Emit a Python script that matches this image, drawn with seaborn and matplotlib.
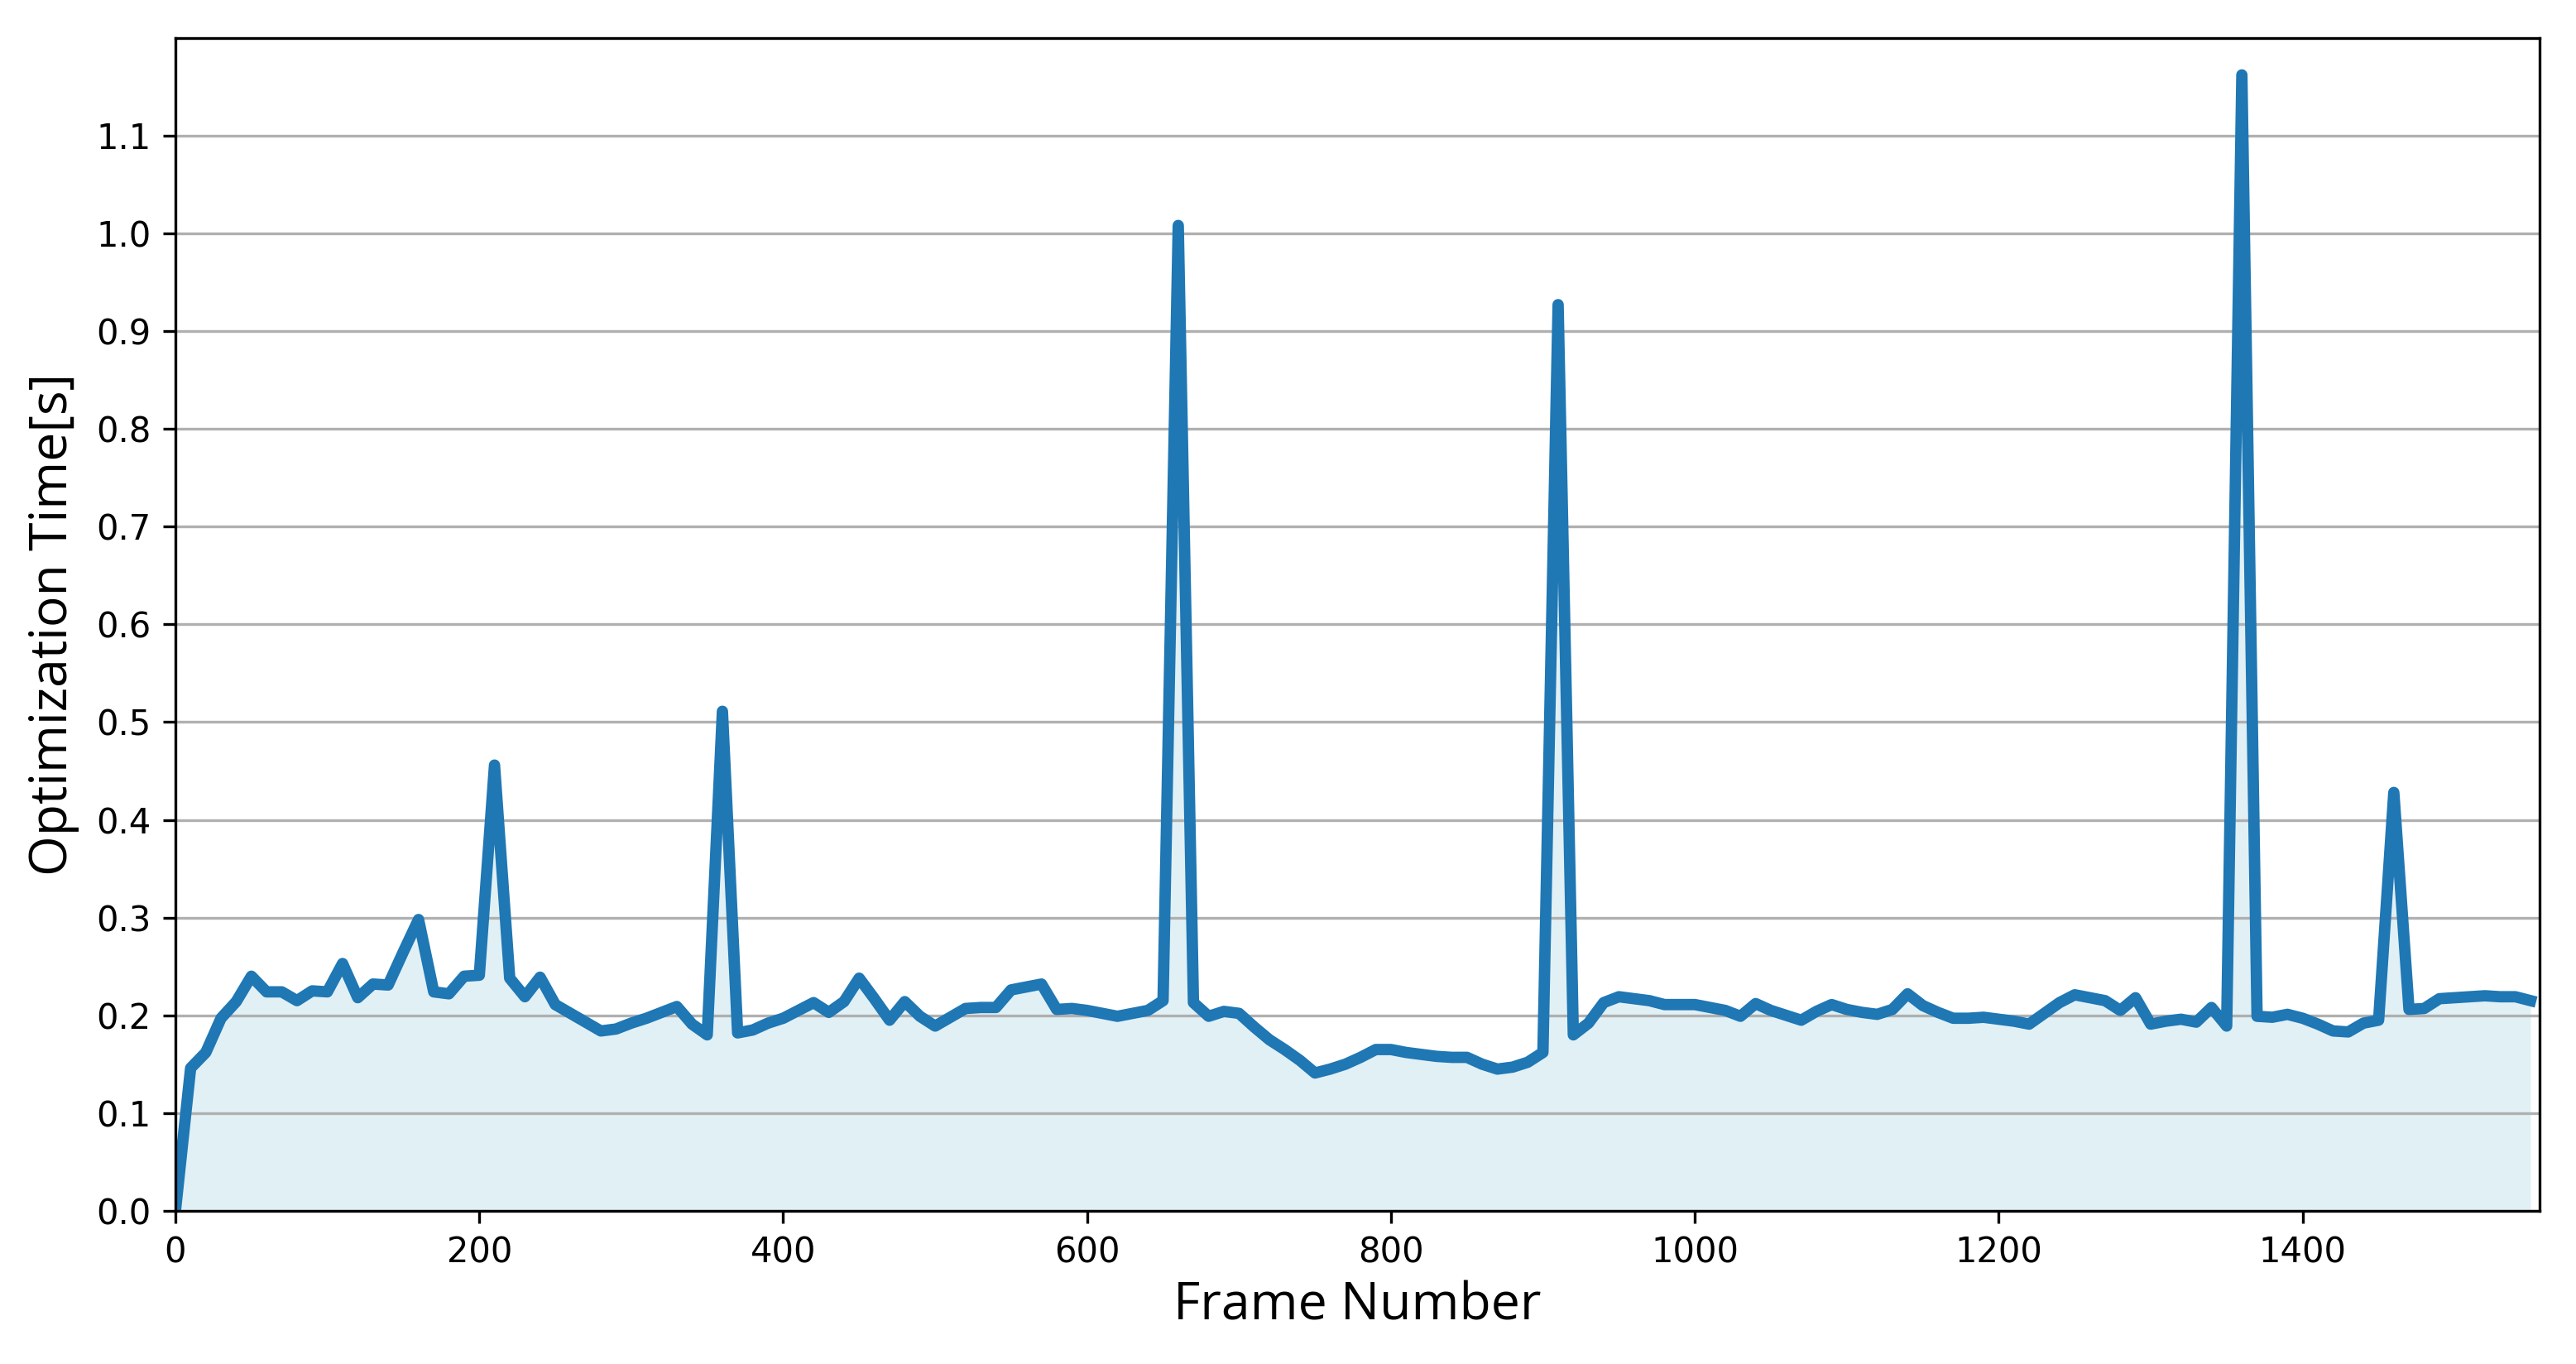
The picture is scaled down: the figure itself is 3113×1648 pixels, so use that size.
import numpy as np
import pandas as pd
import matplotlib
matplotlib.use("Agg")
import matplotlib.pyplot as plt
import seaborn as sns

frames = list(range(0, 1551, 10))
times = [
    0.000, 0.146, 0.162, 0.197, 0.214, 0.240, 0.224, 0.224, 0.215, 0.225,
    0.224, 0.253, 0.218, 0.232, 0.231, 0.265, 0.298, 0.224, 0.222, 0.240,
    0.241, 0.456, 0.238, 0.219, 0.239, 0.211, 0.202, 0.193, 0.184, 0.186,
    0.192, 0.197, 0.203, 0.209, 0.191, 0.180, 0.511, 0.182, 0.185, 0.192,
    0.197, 0.205, 0.213, 0.203, 0.214, 0.238, 0.217, 0.195, 0.214, 0.199,
    0.189, 0.198, 0.207, 0.208, 0.208, 0.226, 0.229, 0.232, 0.206, 0.207,
    0.205, 0.202, 0.199, 0.202, 0.205, 0.215, 1.008, 0.213, 0.199, 0.204,
    0.202, 0.188, 0.175, 0.165, 0.154, 0.141, 0.145, 0.150, 0.157, 0.165,
    0.165, 0.162, 0.160, 0.158, 0.157, 0.157, 0.150, 0.145, 0.147, 0.152,
    0.162, 0.927, 0.180, 0.192, 0.213, 0.219, 0.217, 0.215, 0.211, 0.211,
    0.211, 0.208, 0.205, 0.199, 0.212, 0.205, 0.200, 0.195, 0.204, 0.211,
    0.206, 0.203, 0.201, 0.206, 0.222, 0.210, 0.203, 0.197, 0.197, 0.198,
    0.196, 0.194, 0.191, 0.202, 0.213, 0.221, 0.218, 0.215, 0.205, 0.218,
    0.191, 0.194, 0.196, 0.193, 0.208, 0.189, 1.162, 0.199, 0.198, 0.201,
    0.197, 0.191, 0.184, 0.183, 0.192, 0.195, 0.428, 0.206, 0.207, 0.217,
    0.218, 0.219, 0.220, 0.219, 0.219, 0.215,
]
x_ticks = [0, 200, 400, 600, 800, 1000, 1200, 1400]
y_ticks = [0.0, 0.1, 0.2, 0.3, 0.4, 0.5, 0.6, 0.7, 0.8, 0.9, 1.0, 1.1]

df = pd.DataFrame({"Frame": frames, "Time": times})

fig = plt.figure(figsize=(3113 / 300, 1648 / 300), dpi=300)
ax = fig.add_axes([0.0681, 0.1123, 0.9178, 0.8600])

ax.fill_between(df["Frame"], df["Time"], color="lightblue", alpha=0.36, linewidth=0)
sns.lineplot(data=df, x="Frame", y="Time", color="#1f77b4", linewidth=3.3, ax=ax)

ax.set_xlim(0, 1556)
ax.set_ylim(0, 1.2)
ax.set_xticks(x_ticks)
ax.set_yticks(y_ticks)
ax.set_yticklabels([f"{v:.1f}" for v in y_ticks])
ax.yaxis.grid(True, color="#b0b0b0", linewidth=0.8)
ax.xaxis.grid(False)
ax.tick_params(labelsize=10)

ax.set_xlabel("Frame Number", fontsize=15, family=["Open Sans", "DejaVu Sans"], labelpad=3)
ax.set_ylabel("Optimization Time[s]", fontsize=15, family=["Open Sans", "DejaVu Sans"], labelpad=5)

fig.savefig("out.png", dpi=300)
